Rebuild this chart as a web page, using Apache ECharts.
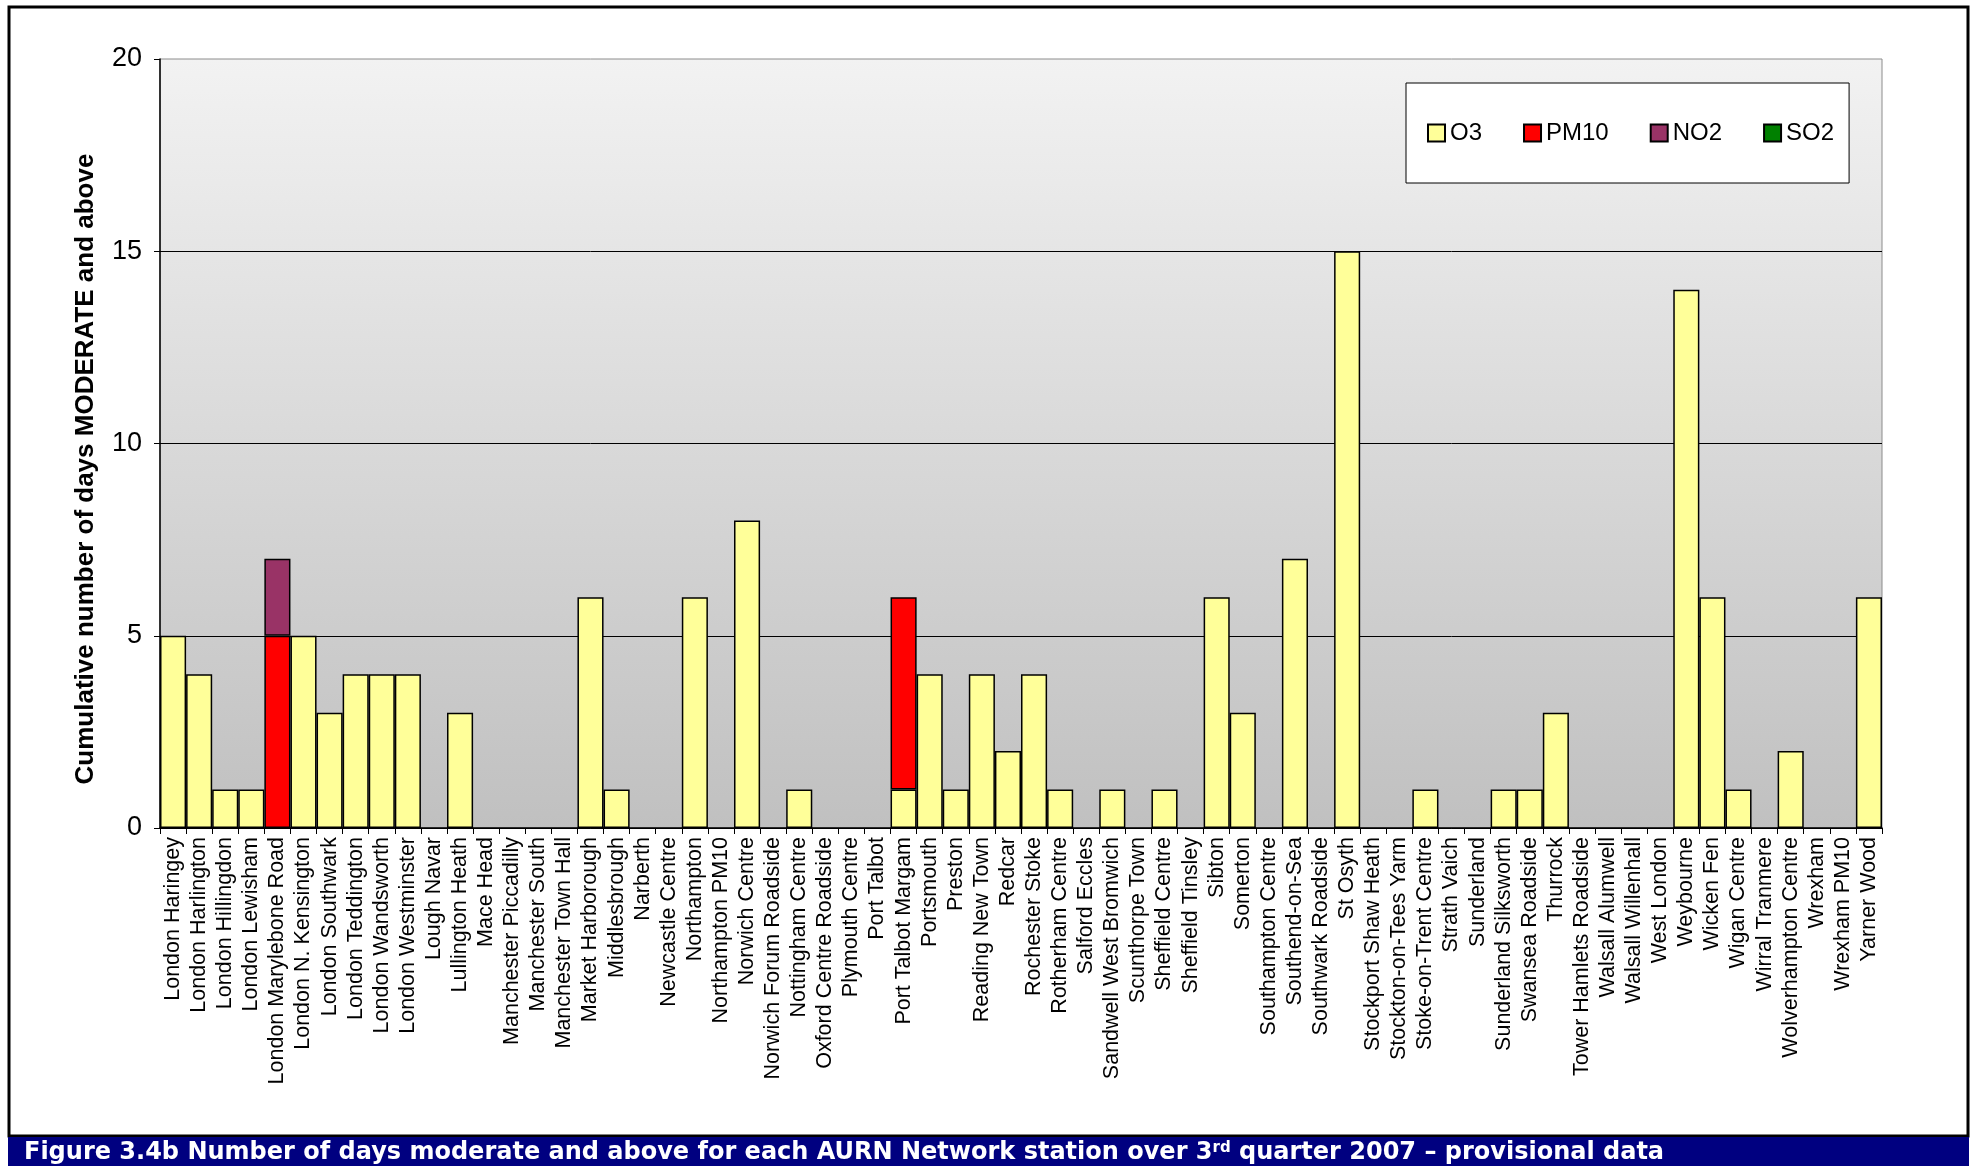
<!DOCTYPE html>
<html>
<head>
<meta charset="utf-8">
<script src="https://cdn.jsdelivr.net/npm/echarts@6/dist/echarts.min.js"></script>
<style>
  html, body { margin: 0; padding: 0; background: #fff; }
  #chart { width: 1975px; height: 1166px; }
</style>
</head>
<body>
<div id="chart"></div>
<script>
// AURN stations, third quarter 2007
const stations = [
  'London Haringey', 'London Harlington', 'London Hillingdon', 'London Lewisham',
  'London Marylebone Road', 'London N. Kensington', 'London Southwark', 'London Teddington',
  'London Wandsworth', 'London Westminster', 'Lough Navar', 'Lullington Heath', 'Mace Head',
  'Manchester Piccadilly', 'Manchester South', 'Manchester Town Hall', 'Market Harborough',
  'Middlesbrough', 'Narberth', 'Newcastle Centre', 'Northampton', 'Northampton PM10',
  'Norwich Centre', 'Norwich Forum Roadside', 'Nottingham Centre', 'Oxford Centre Roadside',
  'Plymouth Centre', 'Port Talbot', 'Port Talbot Margam', 'Portsmouth', 'Preston',
  'Reading New Town', 'Redcar', 'Rochester Stoke', 'Rotherham Centre', 'Salford Eccles',
  'Sandwell West Bromwich', 'Scunthorpe Town', 'Sheffield Centre', 'Sheffield Tinsley',
  'Sibton', 'Somerton', 'Southampton Centre', 'Southend-on-Sea', 'Southwark Roadside',
  'St Osyth', 'Stockport Shaw Heath', 'Stockton-on-Tees Yarm', 'Stoke-on-Trent Centre',
  'Strath Vaich', 'Sunderland', 'Sunderland Silksworth', 'Swansea Roadside', 'Thurrock',
  'Tower Hamlets Roadside', 'Walsall Alumwell', 'Walsall Willenhall', 'West London',
  'Weybourne', 'Wicken Fen', 'Wigan Centre', 'Wirral Tranmere', 'Wolverhampton Centre',
  'Wrexham', 'Wrexham PM10', 'Yarner Wood'
];

// Days at MODERATE or above, per pollutant
const o3 = [
  5, 4, 1, 1, 0, 5, 3, 4, 4, 4, 0, 3, 0, 0, 0, 0, 6, 1, 0, 0, 6, 0,
  8, 0, 1, 0, 0, 0, 1, 4, 1, 4, 2, 4, 1, 0, 1, 0, 1, 0, 6, 3, 0, 7,
  0, 15, 0, 0, 1, 0, 0, 1, 1, 3, 0, 0, 0, 0, 14, 6, 1, 0, 2, 0, 0, 6
];
const pm10 = [
  0, 0, 0, 0, 5, 0, 0, 0, 0, 0, 0, 0, 0, 0, 0, 0, 0, 0, 0, 0, 0, 0,
  0, 0, 0, 0, 0, 0, 5, 0, 0, 0, 0, 0, 0, 0, 0, 0, 0, 0, 0, 0, 0, 0,
  0, 0, 0, 0, 0, 0, 0, 0, 0, 0, 0, 0, 0, 0, 0, 0, 0, 0, 0, 0, 0, 0
];
const no2 = [
  0, 0, 0, 0, 2, 0, 0, 0, 0, 0, 0, 0, 0, 0, 0, 0, 0, 0, 0, 0, 0, 0,
  0, 0, 0, 0, 0, 0, 0, 0, 0, 0, 0, 0, 0, 0, 0, 0, 0, 0, 0, 0, 0, 0,
  0, 0, 0, 0, 0, 0, 0, 0, 0, 0, 0, 0, 0, 0, 0, 0, 0, 0, 0, 0, 0, 0
];
const so2 = [
  0, 0, 0, 0, 0, 0, 0, 0, 0, 0, 0, 0, 0, 0, 0, 0, 0, 0, 0, 0, 0, 0,
  0, 0, 0, 0, 0, 0, 0, 0, 0, 0, 0, 0, 0, 0, 0, 0, 0, 0, 0, 0, 0, 0,
  0, 0, 0, 0, 0, 0, 0, 0, 0, 0, 0, 0, 0, 0, 0, 0, 0, 0, 0, 0, 0, 0
];

const seriesNames = ['O3', 'PM10', 'NO2', 'SO2'];
const seriesColors = ['#FFFF99', '#FF0000', '#993366', '#008000'];
const yTicks = { min: 0, max: 20, interval: 5 };

const chart = echarts.init(document.getElementById('chart'), null, { renderer: 'canvas' });

// empty stack segments are left out so no zero-height outlines appear
const asBars = arr => arr.map(v => (v === 0 ? null : v));

const series = [o3, pm10, no2, so2].map((arr, i) => ({
  name: seriesNames[i],
  type: 'bar',
  stack: 'days',
  data: asBars(arr),
  barCategoryGap: '0%',
  itemStyle: { color: seriesColors[i], borderColor: '#000', borderWidth: 1.5 },
  emphasis: { disabled: true }
}));

const FONT = '"Liberation Sans", Arial, sans-serif';

chart.setOption({
  animation: false,
  backgroundColor: '#fff',
  grid: {
    left: 160, right: 93, top: 59, bottom: 338,
    show: true,
    borderColor: '#8c8c8c',
    borderWidth: 1,
    backgroundColor: new echarts.graphic.LinearGradient(0, 0, 0, 1, [
      { offset: 0, color: '#f2f2f2' },
      { offset: 1, color: '#c0c0c0' }
    ])
  },
  legend: {
    data: seriesNames,
    left: 1406, top: 83,
    orient: 'horizontal',
    backgroundColor: '#fff',
    borderColor: '#000',
    borderWidth: 1,
    padding: [38, 15, 38, 21],
    itemGap: 41,
    itemWidth: 17,
    itemHeight: 17,
    icon: 'rect',
    selectedMode: false,
    textStyle: { fontFamily: FONT, fontSize: 24, color: '#000' }
  },
  xAxis: {
    type: 'category',
    data: stations,
    axisLine: { lineStyle: { color: '#000', width: 1.5 } },
    axisTick: { show: true, alignWithLabel: false, length: 6, lineStyle: { color: '#000' } },
    axisLabel: {
      interval: 0, rotate: 90, margin: 9,
      fontFamily: FONT, fontSize: 21.5, color: '#000'
    },
    splitLine: { show: false }
  },
  yAxis: {
    type: 'value',
    min: yTicks.min, max: yTicks.max, interval: yTicks.interval,
    axisLine: { show: true, lineStyle: { color: '#000', width: 1.5 } },
    axisTick: { show: true, length: 6, lineStyle: { color: '#000' } },
    axisLabel: { margin: 18, fontFamily: FONT, fontSize: 27, color: '#000' },
    splitLine: { show: true, showMaxLine: false, lineStyle: { color: '#000', width: 1 } }
  },
  series: series,
  graphic: [
    {
      type: 'rect', z: 100,
      shape: { x: 9, y: 7, width: 1959, height: 1129 },
      style: { fill: null, stroke: '#000', lineWidth: 3 }
    },
    {
      type: 'rect', z: 100,
      shape: { x: 8, y: 1137, width: 1961, height: 29 },
      style: { fill: '#000080' }
    },
    {
      type: 'text', z: 101,
      left: 24, top: 1141,
      style: {
        text: 'Figure 3.4b Number of days moderate and above for each AURN Network station over 3{sup|rd} quarter 2007 – provisional data',
        fill: '#fff',
        font: 'bold 24px "DejaVu Sans", Verdana, sans-serif',
        rich: {
          sup: {
            fill: '#fff',
            font: 'bold 15px "DejaVu Sans", Verdana, sans-serif',
            verticalAlign: 'top',
            padding: [0, 0, 9, 0]
          }
        }
      }
    },
    {
      type: 'text', z: 101,
      x: 86, y: 469,
      rotation: Math.PI / 2,
      style: {
        text: 'Cumulative number of days MODERATE and above',
        fill: '#000',
        font: 'bold 26px "Liberation Sans", Arial, sans-serif',
        align: 'center',
        verticalAlign: 'middle'
      }
    }
  ]
});
</script>
</body>
</html>
